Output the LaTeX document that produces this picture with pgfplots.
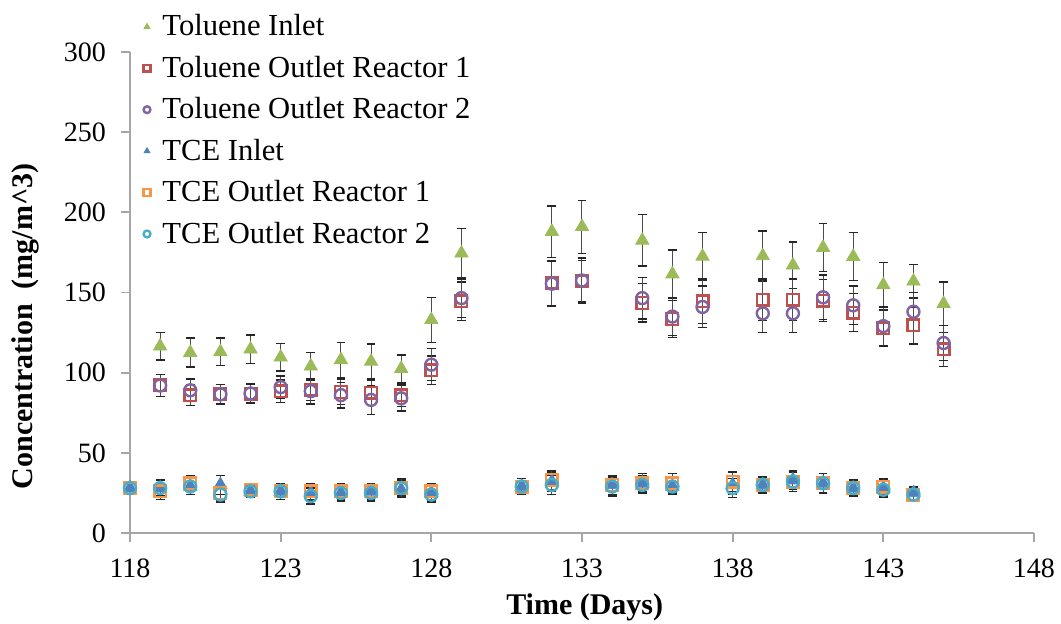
\documentclass[border=0pt]{standalone}
\usepackage{fontspec}
\setmainfont{Liberation Serif}
\usepackage{pgfplots}
\pgfplotsset{compat=1.18}

\definecolor{tolIn}{HTML}{9BBB59}
\definecolor{tolR1}{HTML}{C0504D}
\definecolor{tolR2}{HTML}{8064A2}
\definecolor{tceIn}{HTML}{4F81BD}
\definecolor{tceR1}{HTML}{F79646}
\definecolor{tceR2}{HTML}{4BACC6}
\definecolor{axgray}{HTML}{A6A6A6}

\begin{document}
\begin{tikzpicture}
\path[use as bounding box] (-65pt,-45pt) rectangle (465.5pt,266.5pt);
\begin{axis}[
    scale only axis,
    width=452pt, height=240.5pt,
    xmin=118, xmax=148, ymin=0, ymax=300,
    xtick={118,123,...,148}, ytick={0,50,...,300},
    axis x line=bottom, axis y line=left,
    axis line style={-, axgray, line width=0.9pt},
    tick align=outside, major tick length=4.5pt,
    tick style={axgray, line width=0.9pt},
    /pgf/number format/assume math mode=true,
    tick label style={font=\fontsize{14}{16}\selectfont},
    yticklabel style={xshift=-4pt},
    xticklabel style={yshift=-5pt},
    xlabel={\textbf{Time (Days)}},
    ylabel={\textbf{Concentration\ \ (mg/m\textasciicircum 3)}},
    label style={font=\fontsize{15}{18}\selectfont},
    xlabel style={at={(axis description cs:0.503,-0.154)}, anchor=center},
    ylabel style={at={(axis description cs:-0.116,0.43)}, anchor=center},
    legend style={at={(axis description cs:0.008,1.095)}, anchor=north west,
        draw=none, fill=none, font=\fontsize{15.3}{18}\selectfont,
        row sep=4.6pt, /tikz/every odd column/.append style={column sep=4pt}},
    legend cell align=left,
    legend image code/.code={\draw[mark size=1.7pt] plot coordinates {(0.1cm,0cm)};},
    error bars/y dir=both, error bars/y explicit,
    error bars/error bar style={black!70, line width=0.5pt},
    error bars/error mark options={rotate=90, black!85, mark size=2.2pt, line width=0.7pt},
]
\addplot[only marks, mark=triangle*, mark size=3.8pt, color=tolIn] coordinates {
 (119,116.5) +- (0,8.5) (120,112.5) +- (0,9) (121,113) +- (0,8.5) (122,114.6) +- (0,9)
 (123,109.6) +- (0,8.5) (124,104) +- (0,8.5) (125,108) +- (0,11) (126,107) +- (0,11)
 (127,102.5) +- (0,8.5) (128,133) +- (0,14) (129,174.5) +- (0,15.5) (132,188) +- (0,16)
 (133,191) +- (0,16.5) (135,182.5) +- (0,16) (136,161.5) +- (0,15) (137,172.5) +- (0,15)
 (139,172.8) +- (0,15.5) (140,167) +- (0,14.5) (141,178) +- (0,15) (142,172.4) +- (0,15)
 (143,154.7) +- (0,14) (144,157) +- (0,10.5) (145,143) +- (0,13.5)
};
\addlegendentry{Toluene Inlet}
\addplot[only marks, mark=square, mark size=2.9pt, line width=1.2pt, color=tolR1] coordinates {
 (119,92) +- (0,7) (120,86) +- (0,6.5) (121,86.5) +- (0,6) (122,87) +- (0,6)
 (123,88.5) +- (0,7) (124,89.5) +- (0,7) (125,88) +- (0,8) (126,87.5) +- (0,8)
 (127,86) +- (0,7) (128,101.5) +- (0,9) (129,144.5) +- (0,12) (132,156) +- (0,14)
 (133,157) +- (0,13) (135,143.5) +- (0,12) (136,133.5) +- (0,11.5) (137,144.5) +- (0,14)
 (139,145.5) +- (0,13) (140,145.5) +- (0,13) (141,145) +- (0,13) (142,137.5) +- (0,12)
 (143,127.7) +- (0,11.5) (144,129.5) +- (0,11.5) (145,114.5) +- (0,10.5)
};
\addlegendentry{Toluene Outlet Reactor 1}
\addplot[only marks, mark=o, mark size=3pt, line width=1.2pt, color=tolR2] coordinates {
 (119,92) +- (0,7) (120,89) +- (0,7) (121,86.5) +- (0,6) (122,87) +- (0,6)
 (123,91) +- (0,7) (124,88.5) +- (0,8) (125,86) +- (0,8) (126,83) +- (0,9)
 (127,84) +- (0,8) (128,105) +- (0,10) (129,146.5) +- (0,12) (132,155.5) +- (0,14)
 (133,157.5) +- (0,14) (135,146.5) +- (0,13) (136,135) +- (0,12) (137,141) +- (0,13)
 (139,137) +- (0,12) (140,137) +- (0,12) (141,147) +- (0,14) (142,142) +- (0,12)
 (143,129) +- (0,12) (144,138) +- (0,12) (145,118.5) +- (0,11)
};
\addlegendentry{Toluene Outlet Reactor 2}
\addplot[only marks, mark=triangle*, mark size=3.8pt, color=tceIn] coordinates {
 (118,28) +- (0,4) (119,28) +- (0,5) (120,29) +- (0,5) (121,30) +- (0,6)
 (122,26) +- (0,4) (123,26) +- (0,5) (124,25) +- (0,5) (125,25) +- (0,5)
 (126,26) +- (0,5) (127,27) +- (0,5) (128,25) +- (0,5) (131,29) +- (0,5)
 (132,32) +- (0,6) (134,30) +- (0,6) (135,31) +- (0,5) (136,29) +- (0,5)
 (138,30) +- (0,6) (139,30) +- (0,5) (140,33) +- (0,6) (141,31) +- (0,6)
 (142,28) +- (0,5) (143,28) +- (0,5) (144,25) +- (0,4)
};
\addlegendentry{TCE Inlet}
\addplot[only marks, mark=square, mark size=2.9pt, line width=1.2pt, color=tceR1] coordinates {
 (118,28) +- (0,4) (119,26) +- (0,5) (120,31) +- (0,5) (121,25) +- (0,5)
 (122,27) +- (0,4) (123,26) +- (0,5) (124,26) +- (0,5) (125,26) +- (0,5)
 (126,26) +- (0,5) (127,28) +- (0,5) (128,26) +- (0,5) (131,29) +- (0,5)
 (132,33) +- (0,6) (134,30) +- (0,6) (135,31) +- (0,6) (136,31) +- (0,6)
 (138,32) +- (0,6) (139,30) +- (0,5) (140,32) +- (0,6) (141,31) +- (0,6)
 (142,28) +- (0,5) (143,29) +- (0,5) (144,24) +- (0,4)
};
\addlegendentry{TCE Outlet Reactor 1}
\addplot[only marks, mark=o, mark size=3pt, line width=1.2pt, color=tceR2] coordinates {
 (118,28) +- (0,4) (119,28) +- (0,5) (120,29) +- (0,5) (121,24) +- (0,5)
 (122,26) +- (0,4) (123,26) +- (0,5) (124,23) +- (0,5) (125,25) +- (0,5)
 (126,25) +- (0,5) (127,28) +- (0,6) (128,24) +- (0,5) (131,29) +- (0,5)
 (132,30) +- (0,6) (134,29) +- (0,6) (135,30) +- (0,5) (136,29) +- (0,5)
 (138,28) +- (0,6) (139,30) +- (0,5) (140,32) +- (0,6) (141,31) +- (0,6)
 (142,28) +- (0,5) (143,27) +- (0,5) (144,24) +- (0,4)
};
\addlegendentry{TCE Outlet Reactor 2}
\end{axis}
\end{tikzpicture}
\end{document}
